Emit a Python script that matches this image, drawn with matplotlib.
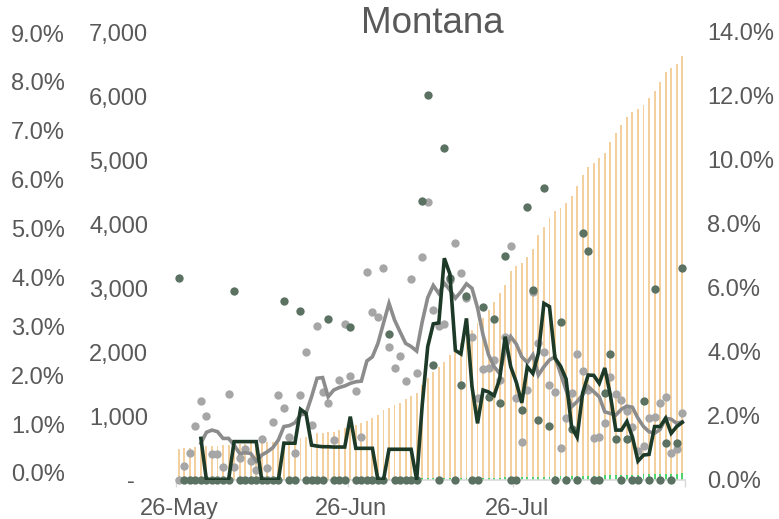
import matplotlib
matplotlib.use("Agg")
import matplotlib.pyplot as plt
from matplotlib.ticker import FuncFormatter, FixedLocator
import numpy as np

plt.rcParams['font.family'] = ['Liberation Sans', 'DejaVu Sans']

# 92 days, 26-May .. 25-Aug
days = np.arange(92)
date_labels = ['26-May', '26-Jun', '26-Jul']
label_days = [0, 31, 61]

# cumulative cases (left axis, 0-7000)
cases = [484, 495, 495, 510, 521, 531, 531, 536, 547, 547, 557, 562, 562, 573, 573, 583,
         589, 599, 599, 610, 625, 635,
         651, 677, 703, 729, 740, 755, 755, 781, 807, 833, 859, 885, 927, 964, 1016, 1094,
         1130, 1172, 1198, 1260, 1318, 1365, 1484, 1599,
         1693, 1771, 1849, 1953, 2057, 2135, 2240, 2344, 2448, 2526, 2656, 2786, 2917, 3047,
         3271, 3344, 3385, 3479, 3604, 3828, 3958, 4089, 4203, 4245, 4323, 4438, 4599, 4766,
         4896, 4958, 5026, 5104, 5276, 5417, 5547, 5667, 5755, 5797, 5859, 5964, 6083, 6224,
         6370, 6432, 6500, 6630]

# cumulative deaths (left axis, small green bars)
deaths = [16, 16, 16, 16, 16, 16, 17, 17, 17, 17,
          17, 17, 17, 18, 18, 18, 18, 19, 19, 20,
          20, 20, 20, 20, 20, 20, 20, 21, 21, 21,
          22, 22, 22, 22, 22, 22, 23, 23, 23, 24,
          24, 25, 25, 25, 26, 27, 28, 28, 28, 29,
          30, 31, 32, 33, 34, 35, 36, 37, 38, 40,
          41, 42, 44, 46, 48, 50, 51, 53, 55, 56,
          58, 60, 62, 64, 66, 67, 69, 71, 73, 75,
          77, 79, 82, 84, 86, 88, 90, 92, 95, 97, 99, 102]

# daily rate, dark dots (right axis, %)
dark_pts = [6.31, 0, 0, 0, 0, 0, 0, 0, 0, 0,
            5.91, 0, 0, 0, 0, 0, 0, 0, 0, 5.58,
            0, 0, 5.28, 0, 0, 0, 0, 5.02, 0, 0,
            0, 4.79, 0, 0, 0, 0, 0, 0, 4.56, 0,
            0, 0, 0, 0, 8.72, 12.02, 3.59, 0, 10.37, 6.30,
            0, 2.97, 5.74, 0, 0, 5.42, 2.58, 5.03, 2.42, 7.01,
            0, 0, 2.19, 8.54, 5.94, 1.88, 9.12, 1.69, 0, 4.95,
            0, 1.59, 0, 7.73, 7.17, 0, 0, 2.71, 3.94, 1.27,
            0, 1.27, 0, 0, 2.48, 0, 5.98, 0, 1.15, 0, 1.15, 6.62]

# daily rate, gray dots (right axis, %)
gray_pts = [0, 0.45, 0.85, 1.69, 2.46, 2.01, 0.81, 0.81, 0.41, 2.70,
            0.41, 0.69, 0.98, 0.58, 0.31, 1.28, 0.38, 1.80, 2.65, 2.24,
            1.35, 0.85, 2.65, 4.00, 1.72, 4.82, 2.74, 2.40, 1.25, 3.13,
            4.87, 3.26, 2.79, 1.33, 6.51, 5.24, 5.10, 6.62, 4.17, 3.49,
            3.88, 3.09, 6.27, 3.33, 6.96, 8.70, 5.31, 4.81, 4.88, 6.25,
            7.40, 6.48, 5.69, 4.48, 2.55, 3.46, 3.51, 3.75, 3.13, 4.48,
            7.31, 2.55, 1.20, 2.81, 5.88, 4.28, 4.01, 2.97, 2.76, 0.99,
            1.95, 2.71, 3.94, 3.41, 2.81, 1.32, 1.35, 1.77, 3.23, 2.68,
            2.50, 2.16, 1.65, 0.91, 1.06, 1.93, 1.98, 2.42, 2.60, 0.85, 0.96, 2.10]

# 7-day averages, start on day 4
avg_start = 4
dark_avg = [1.30, 0, 0, 0, 0, 0, 1.20, 1.20, 1.20, 1.20,
            1.20, 0, 0, 0, 0, 1.15, 1.15, 1.15, 2.21, 2.08,
            1.09, 1.06, 1.04, 1.04, 1.03, 1.03, 1.03, 1.98, 0.99, 0.99,
            0.99, 0.99, 0, 0, 0.96, 0.96, 0.96, 0.96, 0.96, 0,
            2.34, 4.17, 4.88, 4.91, 6.93, 6.44, 4.05, 3.94, 5.05, 2.92,
            1.77, 2.81, 2.75, 2.64, 3.16, 4.48, 3.54, 3.06, 2.41, 3.54,
            3.33, 3.96, 5.52, 5.42, 3.81, 3.56, 3.16, 1.66, 1.34, 2.72,
            3.28, 3.27, 3.02, 3.50, 2.66, 1.56, 1.56, 1.83, 1.34, 0.59,
            0.78, 0.80, 1.67, 1.67, 1.93, 1.46, 1.67, 1.80]
gray_avg = [1.15, 1.49, 1.56, 1.51, 1.30, 1.30, 1.09, 0.83, 0.85, 0.83,
            0.59, 0.78, 0.88, 1.01, 1.25, 1.67, 1.70, 1.79, 2.03, 2.08,
            2.60, 3.18, 3.20, 2.60, 2.81, 2.89, 2.94, 3.02, 3.07, 3.09,
            3.72, 3.85, 4.27, 4.90, 5.52, 5.00, 4.63, 4.27, 4.17, 4.03,
            4.94, 5.70, 6.08, 5.83, 6.15, 5.94, 5.68, 5.88, 6.13, 5.99,
            5.38, 4.53, 3.91, 3.54, 3.33, 4.06, 4.48, 4.25, 3.85, 3.67,
            3.91, 3.28, 3.54, 3.75, 3.85, 3.33, 2.81, 2.29, 2.45, 2.66,
            2.92, 2.76, 2.60, 2.13, 2.08, 2.03, 2.21, 2.31, 2.27, 1.93,
            1.67, 1.51, 1.46, 1.58, 1.93, 1.90, 1.77, 1.82]

text_col = '#595959'
fs = 17

fig = plt.figure(figsize=(7.79, 5.19), dpi=100)
ax = fig.add_axes([176 / 779, 39 / 519, 509 / 779, 448 / 519])

# bars on the count axis
ax.bar(days, cases, width=0.34, color='#f4d09e', zorder=1)
ax.bar(days, deaths, width=0.34, color='#4fd36b', zorder=2)
ax.set_xlim(-0.5, 91.5)
ax.set_ylim(0, 7000)
ax.set_yticks(range(0, 7001, 1000))
ax.yaxis.set_major_formatter(FuncFormatter(lambda v, p: '-  ' if v == 0 else f'{v:,.0f}'))
ax.tick_params(axis='y', length=0, pad=20, labelsize=fs, labelcolor=text_col)

# x axis: marks at month boundaries, labels just right of them
ax.xaxis.set_major_locator(FixedLocator([-0.5, 30.5, 60.5, 91.5]))
ax.xaxis.set_major_formatter(FuncFormatter(lambda v, p: ''))
ax.xaxis.set_minor_locator(FixedLocator([d + 0.1 for d in label_days]))
ax.set_xticklabels(date_labels, minor=True)
ax.tick_params(axis='x', which='major', length=5, color='#d9d9d9', width=1)
ax.tick_params(axis='x', which='minor', length=0, pad=13, labelsize=fs, labelcolor=text_col)

for s in ['top', 'left', 'right']:
    ax.spines[s].set_visible(False)
ax.spines['bottom'].set_color('#d9d9d9')
ax.spines['bottom'].set_linewidth(1.2)

# rate axis on the right
axr = ax.twinx()
axr.set_ylim(0, 14)
axr.set_yticks(np.arange(0, 14.1, 2))
axr.yaxis.set_major_formatter(FuncFormatter(lambda v, p: f'{v:.1f}%'))
axr.tick_params(axis='y', length=0, pad=16, labelsize=fs, labelcolor=text_col)
for s in axr.spines.values():
    s.set_visible(False)

axr.scatter(days, gray_pts, s=36, color='#a6a6a6', linewidths=0, zorder=3, clip_on=False)
axr.scatter(days, dark_pts, s=36, color='#5b7262', linewidths=0, zorder=4, clip_on=False)
xs = days[avg_start:]
axr.plot(xs, gray_avg, color='#8c8c8c', lw=2.6, zorder=5, solid_joinstyle='miter')
axr.plot(xs, dark_avg, color='#1d3a28', lw=2.6, zorder=6, solid_joinstyle='miter')

# outer left percentage axis
axo = ax.twinx()
axo.yaxis.tick_left()
axo.set_ylim(-0.1432, 9.0205)
axo.set_yticks(np.arange(0, 9.1, 1))
axo.yaxis.set_major_formatter(FuncFormatter(lambda v, p: f'{v:.1f}%'))
axo.tick_params(axis='y', length=0, pad=80, labelsize=fs, labelcolor=text_col)
for s in axo.spines.values():
    s.set_visible(False)

# title placed by hand so it sits just above the plot like the original
fig.text(432 / 779, 1 - 33 / 519, 'Montana', fontsize=26.5, color=text_col,
         ha='center', va='baseline')

fig.savefig('out.png', dpi=100)
